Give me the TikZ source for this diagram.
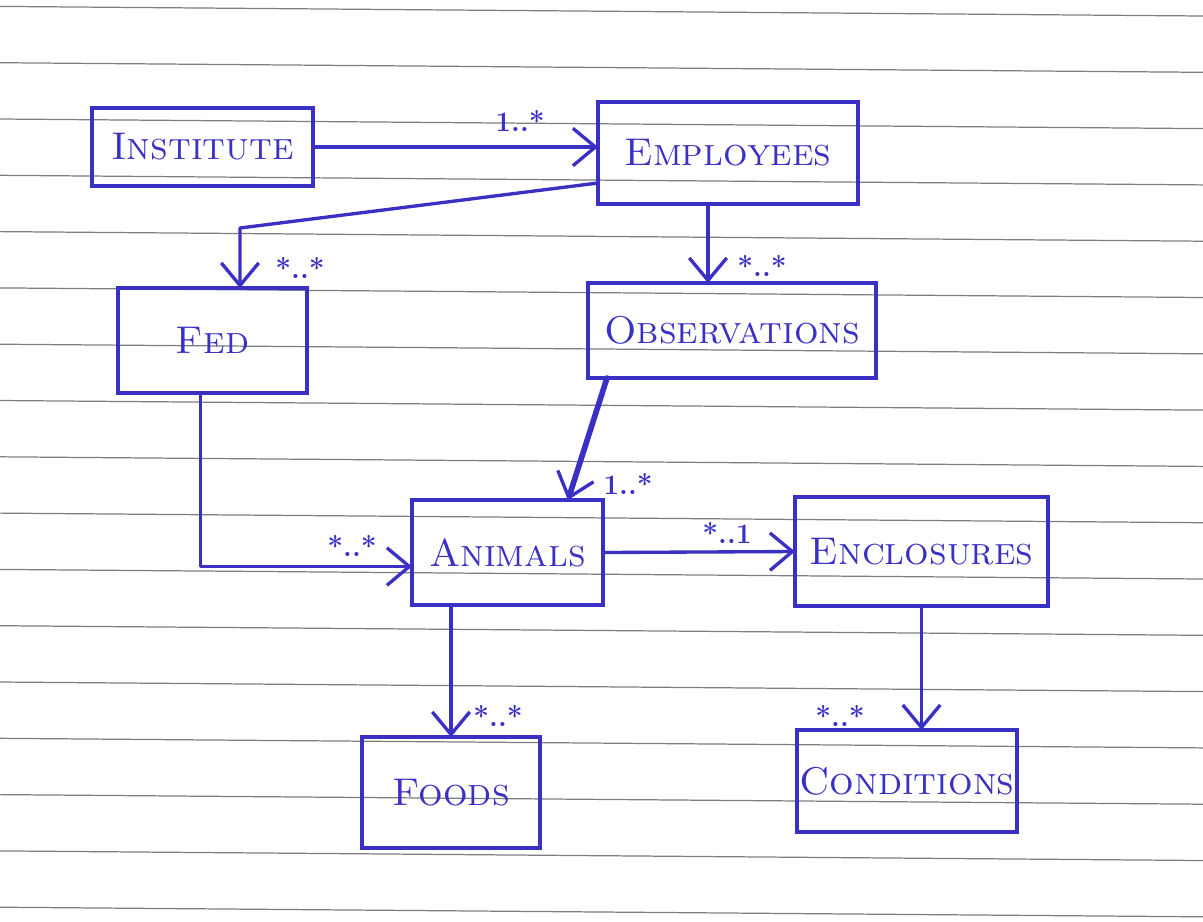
\documentclass[tikz,border=0pt]{standalone}
\usetikzlibrary{arrows.meta,calc}
\definecolor{ink}{RGB}{58,48,196}
\definecolor{rule}{RGB}{125,125,130}
\begin{document}
\begin{tikzpicture}[x=0.02cm,y=-0.02cm,
  box/.style n args={2}{draw=ink, line width=2pt, inner sep=0pt, outer sep=0pt,
    minimum width=#1*0.02cm, minimum height=#2*0.02cm, text=ink,
    font=\fontsize{22}{24}\selectfont\scshape},
  conn/.style={draw=ink, line width=1.9pt, line cap=round, line join=round,
    -{Straight Barb[length=0.45cm,width=0.75cm,line width=1.9pt]}},
  mult/.style={text=ink, font=\fontsize{16}{17}\selectfont\bfseries, inner sep=1pt}]
\useasboundingbox (0,0) rectangle (1203,921);
\fill[white] (0,0) rectangle (1203,921);
% ruled paper
\foreach \k in {0,...,16}
  \draw[rule, line width=0.7pt] (0,{6.4+56.3*\k}) -- (1203,{16+56.3*\k});
% boxes
\node[box={221}{78}]  (inst) at (202.5,147)   {Institute};
\node[box={260}{102}] (emp)  at (728,153)     {Employees};
\node[box={189}{105}] (fed)  at (212.5,340.5) {Fed};
\node[box={288}{95}]  (obs)  at (732,330.5)   {Observations};
\node[box={191}{105}] (ani)  at (507.5,552.5) {Animals};
\node[box={253}{109}] (enc)  at (921.5,551.5) {Enclosures};
\node[box={178}{111}] (food) at (451,792.5)   {Foods};
\node[box={220}{102}] (cond) at (907,781)     {Conditions};
% connectors
\draw[conn] (inst.east) -- (emp.west |- inst.east);
\node[mult] (m1) at (520,121) {1..*};

\coordinate (e2) at ($(emp.west)+(0,30)$);
\coordinate (c2) at (240,228);
\draw[conn] (e2) -- (c2) -- (fed.north -| c2);
\node[mult] (m2) at (300,268) {*..*};

\coordinate (e3) at ($(emp.south)+(-20,0)$);
\draw[conn] (e3) -- (e3 |- obs.north);
\node[mult] (m3) at (762,266) {*..*};

\coordinate (o4) at ($(obs.south west)+(19,0)$);
\coordinate (a4) at ($(ani.north west)+(156,0)$);
\draw[conn, line width=3.2pt] (o4) -- (a4);
\node[mult] (m4) at (628,484) {1..*};

\coordinate (f5) at ($(fed.south)+(-12,0)$);
\coordinate (a5) at ($(ani.west)+(0,14)$);
\draw[conn] (f5) |- (a5);
\node[mult] (m5) at (352,546) {*..*};

\draw[conn] (ani.east) -- (enc.west);
\node[mult] (m6) at (727,533) {*..1};

\draw[conn] (food.north |- ani.south) -- (food.north);
\node[mult] (m7) at (498,716) {*..*};

\draw[conn] (enc.south) -- (enc.south |- cond.north);
\node[mult] (m8) at (840,716) {*..*};
\end{tikzpicture}
\end{document}
